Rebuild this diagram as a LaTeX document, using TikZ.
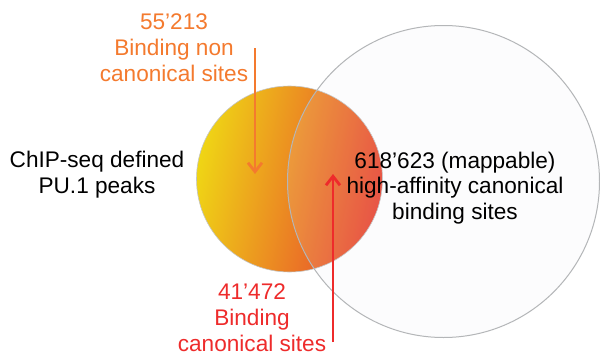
\documentclass[tikz,border=0pt]{standalone}
\usepackage{fontspec}
\setmainfont{Liberation Sans}
\usetikzlibrary{arrows.meta}
\definecolor{cyel}{HTML}{EFD515}
\definecolor{corg}{HTML}{F39A20}
\definecolor{cred}{HTML}{E8402F}
\definecolor{lblorange}{HTML}{F47A2E}
\definecolor{lblred}{HTML}{EE2B2B}
\definecolor{bigfill}{HTML}{ECEEF1}
\definecolor{rimgray}{HTML}{B4B6B8}
\tikzset{
  lbl/.style={font=\fontsize{22.6}{25.8}\selectfont, align=center, inner sep=0pt},
  ptr/.style={line width=2.8pt, -{Straight Barb[length=9pt,width=14pt,line width=2.8pt]}},
}
\begin{document}
\begin{tikzpicture}[x=1pt,y=-1pt]
\useasboundingbox (0,0) rectangle (600,356);
\fill[white] (0,0) rectangle (600,356);
% small circle (PU.1 peaks)
\shade[left color=cyel, middle color=corg, right color=cred, shading angle=78]
  (289.5,179) circle[radius=93];
\draw[rimgray!80, line width=0.6pt] (289.5,179) circle[radius=93];
% large circle (canonical sites)
\fill[bigfill, fill opacity=0.12] (443.5,181.5) circle[radius=156];
\draw[rimgray, line width=1pt] (443.5,181.5) circle[radius=156];
% labels
\node[lbl] (left) at (97,175) {ChIP-seq defined\\PU.1 peaks};
\node[lbl] (right) at (455,188) {618'623 (mappable)\\high-affinity canonical\\binding sites};
\node[lbl, text=lblorange] (nonc) at (174,48) {55’213\\Binding non\\canonical sites};
\node[lbl, text=lblred] (canon) at (252,318) {41’472\\Binding\\canonical sites};
% arrows
\coordinate (otop) at (255,48);
\coordinate (otip) at (255,174);
\coordinate (rbot) at (333,342);
\coordinate (rtip) at (333,174);
\draw[ptr, lblorange] (otop) -- (otip);
\draw[ptr, lblred] (rbot) -- (rtip);
\end{tikzpicture}
\end{document}
